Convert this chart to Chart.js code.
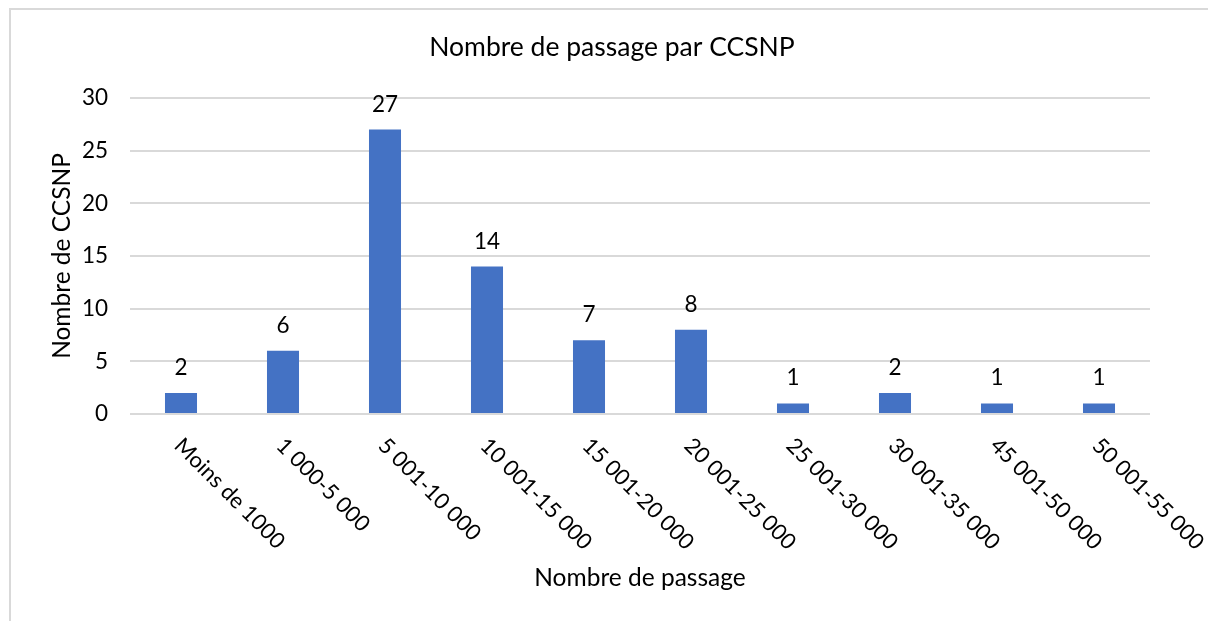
<!DOCTYPE html>
<html>
<head>
<meta charset="utf-8">
<script src="https://cdn.jsdelivr.net/npm/chart.js@4.4.0/dist/chart.umd.min.js"></script>
<style>
  html, body { margin: 0; padding: 0; background: #fff; }
  #wrap { width: 1208px; height: 621px; position: relative; }
</style>
</head>
<body>
<div id="wrap"><canvas id="chart"></canvas></div>
<script>
// Données du graphique
const categories = ['Moins de 1000', '1 000-5 000', '5 001-10 000', '10 001-15 000', '15 001-20 000',
    '20 001-25 000', '25 001-30 000', '30 001-35 000', '45 001-50 000', '50 001-55 000'];
const valeurs = [2, 6, 27, 14, 7, 8, 1, 2, 1, 1];
const yTicks = [0, 5, 10, 15, 20, 25, 30];
const titre = 'Nombre de passage par CCSNP';

const FONT = 'Lato, "Open Sans", sans-serif';

// Cadre gris et titre du graphique
const cadre = {
    id: 'cadre',
    beforeDraw(chart) {
        const c = chart.ctx;
        c.save();
        c.fillStyle = '#fff';
        c.fillRect(0, 0, chart.width, chart.height);
        c.strokeStyle = '#d9d9d9';
        c.lineWidth = 2;
        c.strokeRect(10, 9, chart.width + 20, chart.height + 20);
        c.font = '26.5px ' + FONT;
        c.fillStyle = '#000';
        c.textAlign = 'center';
        c.textBaseline = 'middle';
        c.fillText(titre, 612, 47);
        c.restore();
    }
};

// Étiquettes de données au-dessus des barres
const etiquettes = {
    id: 'etiquettes',
    afterDatasetsDraw(chart) {
        const c = chart.ctx;
        const meta = chart.getDatasetMeta(0);
        c.save();
        c.font = '22.5px ' + FONT;
        c.fillStyle = '#000';
        c.textAlign = 'center';
        c.textBaseline = 'alphabetic';
        meta.data.forEach((bar, i) => {
            c.fillText(String(valeurs[i]), bar.x, bar.y - 18);
        });
        c.restore();
    }
};

// Libellés de l'axe X inclinés à 45° vers le bas (style Excel)
const libellesX = {
    id: 'libellesX',
    afterDraw(chart) {
        const c = chart.ctx;
        const x = chart.scales.x;
        c.save();
        c.font = '22px ' + FONT;
        c.fillStyle = '#000';
        c.textAlign = 'left';
        c.textBaseline = 'middle';
        categories.forEach((lab, i) => {
            const px = x.getPixelForTick(i);
            c.save();
            c.translate(px - 3, x.top + 28);
            c.rotate(Math.PI / 4);
            c.fillText(lab, 0, 0);
            c.restore();
        });
        c.restore();
    }
};

new Chart(document.getElementById('chart').getContext('2d'), {
    type: 'bar',
    data: {
        labels: categories,
        datasets: [{
            data: valeurs,
            backgroundColor: '#4472c4',
            borderWidth: 0,
            categoryPercentage: 1,
            barPercentage: 0.314
        }]
    },
    options: {
        responsive: true,
        maintainAspectRatio: false,
        animation: false,
        layout: { padding: { left: 10, right: 58, top: 98, bottom: 0 } },
        plugins: {
            legend: { display: false },
            tooltip: { enabled: false },
            title: { display: false }
        },
        scales: {
            x: {
                grid: { display: false, drawTicks: false },
                border: { display: false },
                ticks: { display: false },
                title: {
                    display: true,
                    text: 'Nombre de passage',
                    color: '#000',
                    font: { family: FONT, size: 24.5, lineHeight: 1.2 },
                    padding: { top: 0, bottom: 28 }
                },
                afterFit(scale) { scale.height = 207; }
            },
            y: {
                min: 0,
                max: 30,
                afterBuildTicks(scale) { scale.ticks = yTicks.map(v => ({ value: v })); },
                grid: { color: '#d9d9d9', lineWidth: 2, drawTicks: false },
                border: { display: false },
                ticks: {
                    color: '#000',
                    padding: 22,
                    font: { family: FONT, size: 22.5 }
                },
                title: {
                    display: true,
                    text: 'Nombre de CCSNP',
                    color: '#000',
                    font: { family: FONT, size: 24.5, lineHeight: 1.2 },
                    padding: { top: 37, bottom: 0 }
                },
                afterFit(scale) { scale.width = 120; }
            }
        }
    },
    plugins: [cadre, etiquettes, libellesX]
});
</script>
</body>
</html>
